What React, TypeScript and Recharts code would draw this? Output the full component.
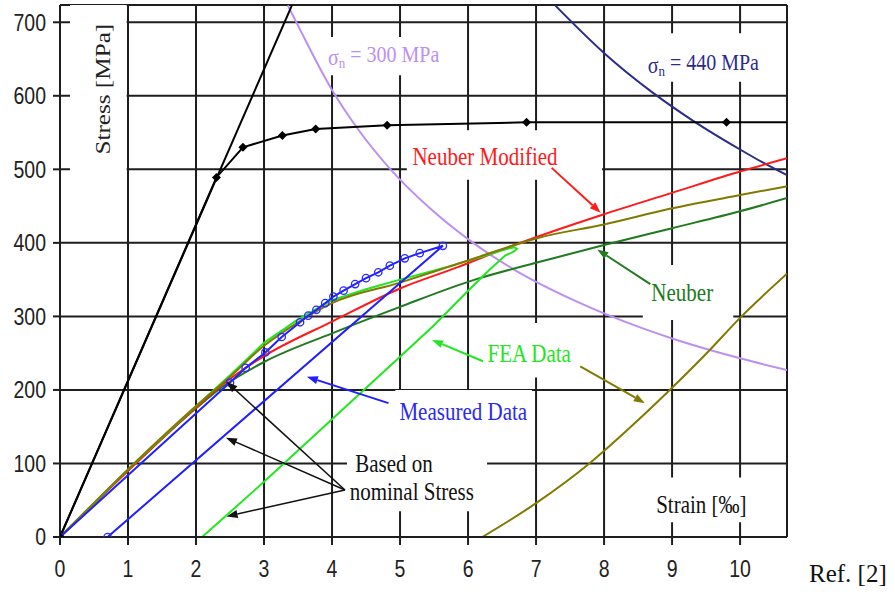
import React from 'react';
import {
  ComposedChart, Line, XAxis, YAxis, CartesianGrid,
  ReferenceArea, ReferenceDot, ReferenceLine,
} from 'recharts';

// strain in per mille, stress in MPa
const xTicks = [0, 1, 2, 3, 4, 5, 6, 7, 8, 9, 10];
const yTicks = [0, 100, 200, 300, 400, 500, 600, 700];

const elasticStrain = [0, 3.41];
const elasticStress = [0, 723];

// monotonic stress-strain curve (black with diamonds)
const curveStrain = [0, 2.3, 2.69, 3.27, 3.76, 4.81, 6.86, 9.8, 10.69];
const curveStress = [0, 489, 530, 546, 555, 560, 564, 564, 564];

// measured loop: loading then unloading
const measuredStrain = [0, 2.5, 2.73, 3.02, 3.26, 3.53, 3.65, 3.77, 3.9, 4.02, 4.17, 4.34, 4.5, 4.68, 4.85, 5.07, 5.29, 5.63, 0.7];
const measuredStress = [0, 210, 230, 251, 272, 292, 301, 309, 318, 327, 335, 344, 352, 360, 369, 379, 386, 396, 0];

// FEA loop
const feaStrain = [0, 1, 2, 2.5, 3, 3.5, 4, 4.5, 5, 5.6, 6.2, 6.5, 6.68, 6.72, 6.67, 6.55, 6.3, 6.0, 5.5, 5.0, 4.0, 3.0, 2.09];
const feaStress = [0, 92, 178, 220, 264, 296, 322, 337, 350, 365, 381, 390, 394, 392, 388, 383, 362, 335, 288, 245, 160, 75, 0];

const oliveStrain = [0, 1, 2, 2.5, 3, 3.5, 4, 5, 5.7, 6.62, 7, 8, 9, 10, 10.69];
const oliveStress = [0, 92, 178, 218, 260, 292, 318, 346, 367, 395, 406, 425, 447, 465, 477];

const oliveUnloadStrain = [6.21, 7.0, 7.77, 8.43, 9.0, 9.53, 10.0, 10.69];
const oliveUnloadStress = [0, 46, 99, 153, 203, 252, 298, 358];

const neuberModStrain = [0, 1, 2, 2.4, 3, 4, 5, 5.85, 6.62, 8, 9, 10, 10.69];
const neuberModStress = [0, 90, 176, 208, 246, 293, 338, 367, 395, 439, 468, 497, 515];

const neuberStrain = [0, 1, 2, 2.4, 3, 4, 5, 6.1, 7, 8, 9, 10, 10.69];
const neuberStress = [0, 90, 175, 205, 238, 277, 313, 350, 373, 397, 420, 443, 461];

const sn300Strain = [3.35, 3.53, 4.0, 4.34, 4.85, 5.44, 6.03, 6.67, 7.65, 8.53, 9.0, 10.0, 10.69];
const sn300Stress = [723, 690, 608, 560, 501, 447, 403, 364, 318, 285, 270, 243, 227];

const sn440Strain = [7.28, 7.99, 8.72, 9.31, 10.0, 10.34, 10.69];
const sn440Stress = [723, 659, 604, 566, 527, 509, 492];

const zip = (xs: number[], ys: number[]) => xs.map((x, i) => ({ x, y: ys[i] }));

const SERIF = '"Liberation Serif", "Times New Roman", serif';
const SANS = '"Liberation Sans", Arial, sans-serif';

// white boxes behind the labels (they cut the grid)
const boxes = [
  { x1: 0.147, x2: 0.98, y1: 470, y2: 723.5 },
  { x1: 3.94, x2: 5.66, y1: 628, y2: 680 },
  { x1: 8.53, x2: 10.44, y1: 619, y2: 685 },
  { x1: 5.1, x2: 7.97, y1: 486, y2: 553 },
  { x1: 8.57, x2: 9.9, y1: 295, y2: 370 },
  { x1: 6.18, x2: 7.6, y1: 217, y2: 291 },
  { x1: 4.93, x2: 6.94, y1: 142, y2: 200 },
  { x1: 4.22, x2: 6.28, y1: 35, y2: 146 },
  { x1: 8.53, x2: 10.51, y1: 20, y2: 81 },
];

const labels = [
  { x: 6.25, y: 518, text: 'Neuber Modified', color: '#ff1a1a', anchor: 'middle' },
  { x: 9.15, y: 333, text: 'Neuber', color: '#207a20', anchor: 'middle' },
  { x: 6.9, y: 250, text: 'FEA Data', color: '#22e622', anchor: 'middle' },
  { x: 5.93, y: 171, text: 'Measured Data', color: '#2a2af0', anchor: 'middle' },
  { x: 4.34, y: 100, text: 'Based on', color: '#111', anchor: 'start' },
  { x: 4.26, y: 63, text: 'nominal Stress', color: '#111', anchor: 'start' },
  { x: 9.43, y: 44, text: 'Strain [‰]', color: '#111', anchor: 'middle' },
];

const sigmaLabels = [
  { x: 4.76, y: 654, value: '300', color: '#bd8ff2' },
  { x: 9.46, y: 642, value: '440', color: '#2b2b8c' },
];

const arrows = [
  { from: [7.23, 502], to: [7.95, 441], color: '#ff1a1a', w: 2 },
  { from: [8.68, 344], to: [7.9, 391], color: '#207a20', w: 2 },
  { from: [6.22, 239], to: [5.47, 268], color: '#22e622', w: 2 },
  { from: [7.65, 232], to: [8.6, 182], color: '#807a00', w: 2 },
  { from: [4.83, 182], to: [3.63, 218], color: '#1f1fff', w: 2 },
  { from: [4.19, 64], to: [2.45, 211], color: '#111', w: 1.5 },
  { from: [4.19, 64], to: [2.44, 135], color: '#111', w: 1.5 },
  { from: [4.19, 64], to: [2.45, 28], color: '#111', w: 1.5 },
];

const arrowShape = (color: string, w: number) => (p: any) => {
  const x1 = Number(p.x1), y1 = Number(p.y1), x2 = Number(p.x2), y2 = Number(p.y2);
  const a = Math.atan2(y2 - y1, x2 - x1);
  const L = 11, H = 4;
  const bx = x2 - L * Math.cos(a), by = y2 - L * Math.sin(a);
  const pts = `${x2},${y2} ${bx - H * Math.sin(a)},${by + H * Math.cos(a)} ${bx + H * Math.sin(a)},${by - H * Math.cos(a)}`;
  return (
    <g>
      <line x1={x1} y1={y1} x2={bx} y2={by} stroke={color} strokeWidth={w} />
      <polygon points={pts} fill={color} />
    </g>
  );
};

const YTick = (p: any) => (
  <g transform={`translate(${p.x},${p.y}) scale(1,1.2)`}>
    <text x={0} y={0} dy="0.36em" textAnchor="end" fontFamily={SANS} fontSize={19.5} fill="#222">
      {p.payload.value}
    </text>
  </g>
);

const XTick = (p: any) => (
  <g transform={`translate(${p.x},${p.y}) scale(1,1.2)`}>
    <text x={0} y={0} dy="0.72em" textAnchor="middle" fontFamily={SANS} fontSize={19.5} fill="#222">
      {p.payload.value}
    </text>
  </g>
);

const curvePts = zip(curveStrain, curveStress);

const Diamond = (p: any) => {
  if (p.index === curvePts.length - 1) return <g key={p.index} />;
  const { cx, cy } = p;
  const s = 4.5;
  return (
    <polygon key={p.index} points={`${cx},${cy - s} ${cx + s},${cy} ${cx},${cy + s} ${cx - s},${cy}`} fill="#000" />
  );
};

const OpenCircle = (p: any) => (
  <circle key={p.index} cx={p.cx} cy={p.cy} r={3.7} fill="none" stroke="#2a2aff" strokeWidth={1.3} />
);

export default function App() {
  return (
    <div style={{ position: 'absolute', left: 0, top: 0, width: 895, height: 592, background: '#fff' }}>
      <ComposedChart width={895} height={592} margin={{ top: 5, right: 108, bottom: 0, left: 0 }}>
        <CartesianGrid stroke="#1e1e1e" strokeWidth={2} />
        <XAxis
          type="number" dataKey="x" domain={[0, 10.69]} ticks={xTicks} interval={0}
          allowDataOverflow height={55} tickSize={8} tickMargin={15}
          axisLine={{ stroke: '#1e1e1e', strokeWidth: 2 }} tickLine={{ stroke: '#1e1e1e', strokeWidth: 2 }}
          tick={XTick}
        />
        <YAxis
          type="number" dataKey="y" domain={[0, 723.5]} ticks={yTicks} interval={0}
          allowDataOverflow width={60} tickSize={7} tickMargin={7}
          axisLine={{ stroke: '#1e1e1e', strokeWidth: 2 }} tickLine={{ stroke: '#1e1e1e', strokeWidth: 2 }}
          tick={YTick}
        />

        {boxes.map((b, i) => (
          <ReferenceArea key={'b' + i} x1={b.x1} x2={b.x2} y1={b.y1} y2={b.y2}
            fill="#fff" fillOpacity={1} stroke="none" ifOverflow="visible" zIndex={-50} />
        ))}

        <Line data={zip(sn300Strain, sn300Stress)} dataKey="y" type="monotone" stroke="#bd8ff2" strokeWidth={2} dot={false} activeDot={false} isAnimationActive={false} />
        <Line data={zip(sn440Strain, sn440Stress)} dataKey="y" type="monotone" stroke="#2b2b8c" strokeWidth={2} dot={false} activeDot={false} isAnimationActive={false} />
        <Line data={zip(neuberStrain, neuberStress)} dataKey="y" type="monotone" stroke="#207a20" strokeWidth={2} dot={false} activeDot={false} isAnimationActive={false} />
        <Line data={zip(neuberModStrain, neuberModStress)} dataKey="y" type="monotone" stroke="#ff1a1a" strokeWidth={2} dot={false} activeDot={false} isAnimationActive={false} />
        <Line data={zip(feaStrain, feaStress)} dataKey="y" type="linear" stroke="#22e622" strokeWidth={2} dot={false} activeDot={false} isAnimationActive={false} />
        <Line data={zip(oliveStrain, oliveStress)} dataKey="y" type="monotone" stroke="#807a00" strokeWidth={2} dot={false} activeDot={false} isAnimationActive={false} />
        <Line data={zip(oliveUnloadStrain, oliveUnloadStress)} dataKey="y" type="monotone" stroke="#807a00" strokeWidth={2} dot={false} activeDot={false} isAnimationActive={false} />
        <Line data={zip(measuredStrain, measuredStress)} dataKey="y" type="linear" stroke="#1f1fff" strokeWidth={2} dot={OpenCircle} activeDot={false} isAnimationActive={false} />
        <Line data={zip(elasticStrain, elasticStress)} dataKey="y" type="linear" stroke="#000" strokeWidth={2} dot={false} activeDot={false} isAnimationActive={false} />
        <Line data={curvePts} dataKey="y" type="linear" stroke="#000" strokeWidth={2} dot={Diamond} activeDot={false} isAnimationActive={false} />

        {arrows.map((a, i) => (
          <ReferenceLine key={'a' + i} segment={[{ x: a.from[0], y: a.from[1] }, { x: a.to[0], y: a.to[1] }]}
            ifOverflow="visible" zIndex={1500} shape={arrowShape(a.color, a.w)} />
        ))}

        {labels.map((l, i) => (
          <ReferenceDot key={'l' + i} x={l.x} y={l.y} r={0} zIndex={1500}
            shape={(p: any) => (
              <g transform={`translate(${p.cx},${p.cy}) scale(1,1.2)`}>
                <text x={0} y={0} dy="0.35em" textAnchor={l.anchor} fontFamily={SERIF} fontSize={21} fill={l.color}>{l.text}</text>
              </g>
            )} />
        ))}

        {sigmaLabels.map((l, i) => (
          <ReferenceDot key={'s' + i} x={l.x} y={l.y} r={0} zIndex={1500}
            shape={(p: any) => (
              <g transform={`translate(${p.cx},${p.cy}) scale(1,1.2)`}>
                <text x={0} y={0} dy="0.35em" textAnchor="middle" fontFamily={SERIF} fontSize={20} fill={l.color}>
                  <tspan>σ</tspan>
                  <tspan fontSize={13} dy="0.2em">n</tspan>
                  <tspan dy="-0.25em">{` = ${l.value} MPa`}</tspan>
                </text>
              </g>
            )} />
        ))}

        <ReferenceDot x={0.63} y={609} r={0} zIndex={1500}
          shape={(p: any) => (
            <g transform={`translate(${p.cx},${p.cy}) scale(1,1.2) rotate(-90)`}>
              <text x={0} y={0} dy="0.35em" textAnchor="middle" fontFamily={SERIF} fontSize={21} fill="#222">Stress [MPa]</text>
            </g>
          )} />
      </ComposedChart>
      <svg width={895} height={592} style={{ position: 'absolute', left: 0, top: 0, pointerEvents: 'none' }}>
        <text x={809} y={582} fontFamily={SERIF} fontSize={25} fill="#111">Ref. [2]</text>
      </svg>
    </div>
  );
}
